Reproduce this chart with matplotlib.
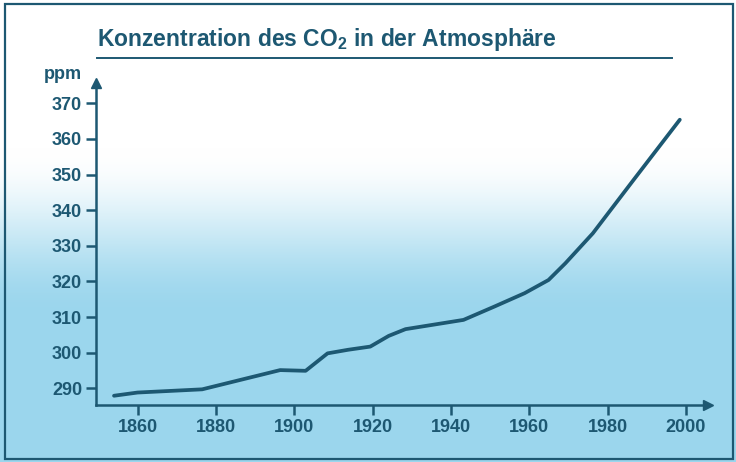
import matplotlib
matplotlib.use("Agg")
import matplotlib.pyplot as plt
import numpy as np
from matplotlib.lines import Line2D
from matplotlib.patches import Rectangle

# data
years = [1854, 1860, 1876.5, 1896.4, 1902.9, 1908.5, 1913.7, 1919.4, 1924.1, 1928.4,
         1943.2, 1951.0, 1958.8, 1964.9, 1969.2, 1976.2, 1986.6, 1998.4]
ppm = [287.9, 288.8, 289.7, 295.1, 294.9, 299.8, 300.8, 301.7, 304.7, 306.6,
       309.2, 312.9, 316.7, 320.4, 325.1, 333.5, 348.5, 365.4]
x_ticks = [1860, 1880, 1900, 1920, 1940, 1960, 1980, 2000]
y_ticks = [290, 300, 310, 320, 330, 340, 350, 360, 370]
title = r"Konzentration des CO$_\mathbf{2}$ in der Atmosphäre"
y_label = "ppm"

teal = "#1d5872"
fonts = ["Liberation Sans", "DejaVu Sans"]
plt.rcParams["mathtext.fontset"] = "custom"
plt.rcParams["mathtext.rm"] = "Liberation Sans"
plt.rcParams["mathtext.bf"] = "Liberation Sans:bold"

fig = plt.figure(figsize=(7.36, 4.62), dpi=100)

# background: white on top fading to light blue
bg = fig.add_axes([0, 0, 1, 1])
rows = np.linspace(0, 1, 462)
t = np.clip((rows - 0.32) / 0.36, 0, 1)
t = t * t * (3 - 2 * t)
top = np.array([1.0, 1.0, 1.0])
bottom = np.array([0.61, 0.84, 0.93])
grad = top[None, :] * (1 - t[:, None]) + bottom[None, :] * t[:, None]
grad = np.repeat(grad[:, None, :], 2, axis=1)
bg.imshow(grad, aspect="auto", extent=[0, 1, 0, 1], origin="upper")
bg.set_xlim(0, 1)
bg.set_ylim(0, 1)
bg.axis("off")

# frame and title rule
bg.add_patch(Rectangle((5 / 736, 3 / 462), 728 / 736, 455 / 462, fill=False,
                       edgecolor=teal, linewidth=1.6))
bg.add_line(Line2D([97 / 736, 672 / 736], [1 - 58 / 462, 1 - 58 / 462],
                   color=teal, linewidth=1.4))
fig.text(97 / 736, 1 - 46 / 462, title, family=fonts, fontsize=16.5, fontweight="bold",
         color=teal, ha="left", va="baseline")

ax = fig.add_axes([96 / 736, 1 - 405 / 462, 612 / 736, (405 - 82.7) / 462])
ax.patch.set_alpha(0)
ax.plot(years, ppm, color=teal, linewidth=2.7, solid_capstyle="round",
        solid_joinstyle="round")
ax.set_xlim(1849.4, 2005.6)
ax.set_ylim(285.3, 375.8)
ax.set_xticks(x_ticks)
ax.set_yticks(y_ticks)
ax.set_xticklabels([str(v) for v in x_ticks])
ax.set_yticklabels([str(v) for v in y_ticks])
for s in ["top", "right"]:
    ax.spines[s].set_visible(False)
for s in ["left", "bottom"]:
    ax.spines[s].set_color(teal)
    ax.spines[s].set_linewidth(1.8)
ax.tick_params(axis="both", colors=teal, width=1.8, length=7, direction="out")
for lab in ax.get_xticklabels() + ax.get_yticklabels():
    lab.set_family(fonts)
    lab.set_fontweight("bold")
    lab.set_fontsize(13)
    lab.set_color(teal)
ax.tick_params(axis="x", pad=3)
ax.tick_params(axis="y", pad=3)

# arrow heads at the axis ends
ax.plot(1, 0, marker=">", color=teal, markersize=7, transform=ax.transAxes, clip_on=False)
ax.plot(0, 1, marker="^", color=teal, markersize=7, transform=ax.transAxes, clip_on=False)
fig.text(82 / 736, 1 - 79 / 462, y_label, family=fonts, fontsize=13, fontweight="bold",
         color=teal, ha="right", va="baseline")

fig.savefig("out.png", dpi=100)
